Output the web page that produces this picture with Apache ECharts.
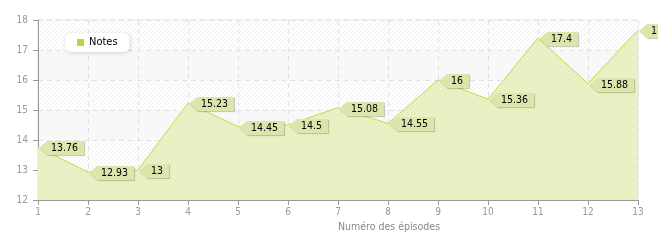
<!DOCTYPE html>
<html><head><meta charset="utf-8">
<script src="https://cdn.jsdelivr.net/npm/echarts@6/dist/echarts.min.js"></script>
<style>html,body{margin:0;padding:0;background:#fff}#c{width:658px;height:240px}</style>
</head><body><div id="c"></div>
<script>
const episodes = ['1','2','3','4','5','6','7','8','9','10','11','12','13'];
const notes = [13.76, 12.93, 13, 15.23, 14.45, 14.5, 15.08, 14.55, 16, 15.36, 17.4, 15.88, 17.67];
const seriesName = 'Notes';
const xAxisName = 'Numéro des épisodes';

const FONT = '"DejaVu Sans Condensed", "DejaVu Sans", sans-serif';
const LFONT = '10.5px ' + FONT;

function hatch(bg, line, size) {
  const c = document.createElement('canvas');
  c.width = size; c.height = size;
  const g = c.getContext('2d');
  g.fillStyle = bg; g.fillRect(0, 0, size, size);
  g.strokeStyle = line; g.lineWidth = 1;
  g.beginPath();
  g.moveTo(0, size); g.lineTo(size, 0);
  g.moveTo(-size, size); g.lineTo(size, -size);
  g.moveTo(0, 2 * size); g.lineTo(2 * size, 0);
  g.stroke();
  return { image: c, repeat: 'repeat' };
}
const bgHatch = hatch('#ffffff', '#efefef', 4);
const areaHatch = hatch('#ebf3c6', '#e1ecb2', 4);

const mctx = document.createElement('canvas').getContext('2d');
mctx.font = LFONT;

const chart = echarts.init(document.getElementById('c'));
chart.setOption({
  animation: false,
  grid: { left: 38, right: 20, top: 20, bottom: 40, show: true, borderColor: '#e0e0e0', borderWidth: 1 },
  legend: {
    left: 65, top: 33,
    data: [{ name: seriesName, icon: 'rect' }],
    itemWidth: 7, itemHeight: 7, itemGap: 6,
    backgroundColor: '#ffffff', borderRadius: 6,
    padding: [4, 12, 4, 12],
    shadowBlur: 4, shadowColor: 'rgba(0,0,0,0.15)', shadowOffsetX: 1, shadowOffsetY: 1,
    textStyle: { fontFamily: FONT, fontSize: 11, color: '#000' }
  },
  xAxis: {
    type: 'category', data: episodes, boundaryGap: false,
    name: xAxisName, nameLocation: 'middle', nameGap: 22,
    nameTextStyle: { fontFamily: FONT, fontSize: 10.5, color: '#888', padding: [0, 0, 0, 102] },
    axisLine: { lineStyle: { color: '#999' } },
    axisTick: { show: true, length: 5, lineStyle: { color: '#999' }, alignWithLabel: true },
    axisLabel: { fontFamily: FONT, fontSize: 10, color: '#999', margin: 7 },
    splitLine: { show: true, lineStyle: { color: '#e2e2e2', type: [5, 4] } }
  },
  yAxis: {
    type: 'value', min: 12, max: 18, interval: 1,
    axisLine: { show: true, lineStyle: { color: '#999' } },
    axisTick: { show: true, length: 5, lineStyle: { color: '#999' } },
    axisLabel: { fontFamily: FONT, fontSize: 10, color: '#999', margin: 10 },
    splitLine: { show: true, lineStyle: { color: '#e2e2e2', type: [5, 4] } },
    splitArea: { show: true, areaStyle: { color: ['#f8f8f8', bgHatch] } }
  },
  series: [
    {
      name: seriesName, type: 'line', data: notes, symbol: 'none',
      color: '#b9d63a',
      lineStyle: { color: '#c4dc4a', width: 1 },
      areaStyle: { color: areaHatch, opacity: 1 }
    },
    {
      type: 'custom', clip: false, z: 10, silent: true,
      data: notes.map((v, i) => [i, v]),
      renderItem: function (params, api) {
        const p = api.coord([api.value(0), api.value(1)]);
        const x = Math.round(p[0]), y = Math.round(p[1]);
        const txt = String(api.value(1));
        const w = Math.ceil(mctx.measureText(txt).width) + 9;
        const bx = x + 9, top = y - 6, bot = y + 8;
        return {
          type: 'group',
          children: [
            {
              type: 'polygon',
              shape: { points: [[x + 1, y + 1], [bx, top], [bx + w, top], [bx + w, bot], [bx, bot]] },
              style: { fill: '#dde5ad', shadowColor: 'rgba(90,100,40,0.35)', shadowOffsetX: 1, shadowOffsetY: 1, shadowBlur: 1 }
            },
            {
              type: 'text',
              style: { text: txt, x: bx + 4, y: y + 1, verticalAlign: 'middle', align: 'left',
                       font: LFONT, fill: '#000' }
            }
          ]
        };
      }
    }
  ]
});
</script></body></html>
